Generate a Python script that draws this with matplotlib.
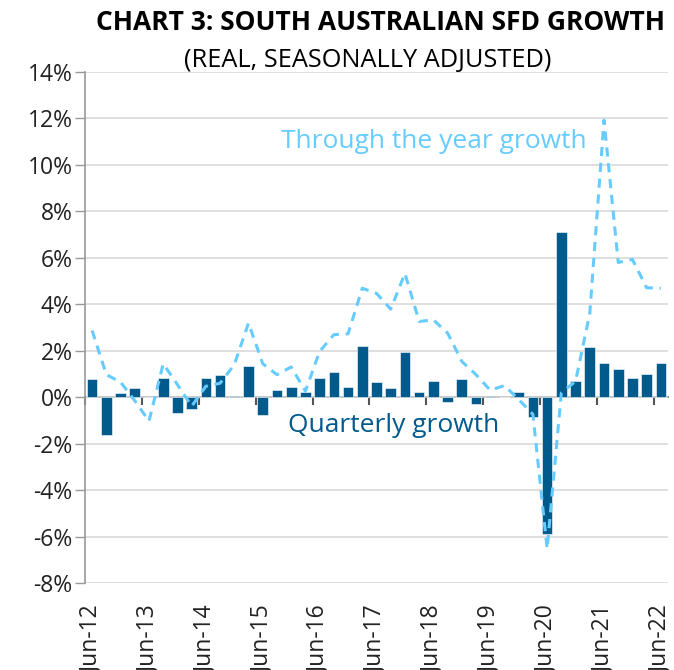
import numpy as np
import matplotlib.pyplot as plt

plt.rcParams['font.family'] = ['Open Sans', 'DejaVu Sans']

# quarters Jun-12 .. Jun-22
years = list(range(12, 23))
quarters = []
for y in years:
    for m in ['Jun', 'Sep', 'Dec', 'Mar']:
        yy = y if m in ('Jun', 'Sep', 'Dec') else y + 1
        quarters.append(f"{m}-{yy}")
quarters = quarters[:41]

# quarterly growth (%)
quarterly = [0.79, -1.64, 0.19, 0.40, 0.02, 0.83, -0.70, -0.49, 0.83, 0.94,
             0.06, 1.33, -0.76, 0.33, 0.44, 0.23, 0.83, 1.10, 0.44, 2.21,
             0.67, 0.39, 1.94, 0.23, 0.71, -0.20, 0.79, -0.31, 0.06, 0.02,
             0.23, -0.86, -5.90, 7.11, 0.71, 2.16, 1.49, 1.21, 0.83, 1.00,
             1.49]

# through the year growth (%)
through_year = [2.87, 0.97, 0.65, -0.15, -1.03, 1.44, 0.54, -0.39, 0.47, 0.60,
                1.40, 3.19, 1.44, 0.97, 1.30, 0.26, 1.97, 2.69, 2.73, 4.69,
                4.47, 3.79, 5.33, 3.26, 3.33, 2.76, 1.54, 0.97, 0.30, 0.50,
                -0.10, -0.74, -6.53, 0.19, 0.69, 3.61, 11.93, 5.80, 5.93, 4.71,
                4.69]

dark_blue = '#005A8C'
light_blue = '#66CCFF'

fig = plt.figure(figsize=(6.74, 6.70), dpi=100)
ax = fig.add_axes([85 / 674, 1 - 583 / 670, (668 - 85) / 674, (583 - 72) / 670])

x = np.arange(len(quarters))
ax.bar(x, quarterly, width=0.75, color=dark_blue, edgecolor='white', linewidth=0.4, zorder=3)
ax.plot(x, through_year, color=light_blue, linestyle=(0, (3, 2.2)), linewidth=2.2, zorder=4)

ax.set_xlim(-0.5, len(quarters) - 0.5)
ax.set_ylim(-8, 14)
yt = np.arange(-8, 15, 2)
ax.set_yticks(yt)
ax.set_yticklabels([f"{v}%" for v in yt], fontsize=16.5, color='#222222')
ax.tick_params(axis='y', length=7, width=1, color='#999999', pad=2)
ax.grid(axis='y', color='#D9D9D9', linewidth=1.2, zorder=0)

# x labels at bottom, every 4th quarter
ax.set_xticks(x[::4])
ax.set_xticklabels(quarters[::4], rotation=90, fontsize=16.5, color='#222222')
ax.tick_params(axis='x', length=0, pad=16)

for s in ['top', 'right', 'bottom']:
    ax.spines[s].set_visible(False)
ax.spines['left'].set_color('#999999')
ax.spines['left'].set_linewidth(1.2)

# category axis crossing at zero, ticks between categories
sec = ax.secondary_xaxis(8 / 22)
sec.set_xticks(np.arange(-0.5, len(quarters), 4))
sec.set_xticklabels([])
sec.tick_params(axis='x', length=6, width=1.5, color='#555555', direction='out')
sec.spines['bottom'].set_color('#555555')
sec.spines['bottom'].set_linewidth(1.2)

ax.text(24.0, 11.0, 'Through the year growth', color=light_blue, fontsize=19,
        ha='center', va='center')
ax.text(21.2, -1.2, 'Quarterly growth', color=dark_blue, fontsize=19,
        ha='center', va='center')

fig.text(381 / 674, 1 - 22 / 670, 'CHART 3: SOUTH AUSTRALIAN SFD GROWTH',
         fontsize=19, fontweight='bold', ha='center', va='center')
fig.text(368 / 674, 1 - 60 / 670, '(REAL, SEASONALLY ADJUSTED)',
         fontsize=18.3, ha='center', va='center')

fig.savefig('out.png', dpi=100)
